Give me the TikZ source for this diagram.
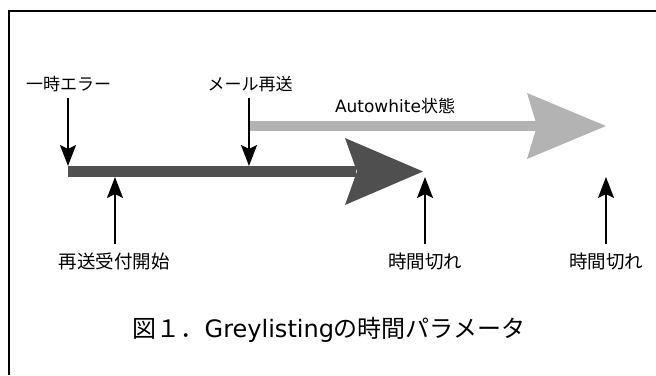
\documentclass[tikz,border=0pt]{standalone}
\usepackage{fontspec}
\setmainfont{DejaVu Sans}
\newfontfamily\cjk{Noto Sans CJK JP}
\usetikzlibrary{arrows.meta}
\definecolor{darkbar}{HTML}{4F4F4F}
\definecolor{lightbar}{HTML}{B3B3B3}
\tikzset{
  lbl/.style={font=\cjk\fontsize{17}{20}\selectfont, inner sep=0pt, anchor=center},
  blbl/.style={font=\cjk\fontsize{18.5}{21}\selectfont, inner sep=0pt, anchor=center},
  ttl/.style={font=\fontsize{24}{28}\selectfont, inner sep=0pt, anchor=center},
  ptr/.style={line width=2pt, -{Stealth[length=21pt,width=16pt,inset=4pt]}},
}
\begin{document}
\begin{tikzpicture}[x=1pt,y=-1pt]
\useasboundingbox (0,0) rectangle (656,375);
% frame
\draw[line width=1.3pt] (9,375) -- (9,11) -- (656,11);
% dark timeline arrow
\fill[darkbar] (68,166) rectangle (356,177);
\fill[darkbar] (345,138) -- (423,171.5) -- (345,205) -- (357,171.5) -- cycle;
% light timeline arrow
\fill[lightbar] (250,121) rectangle (538,131);
\fill[lightbar] (527,93) -- (606,126) -- (527,159) -- (537,126) -- cycle;
% labels
\node[lbl] (err) at (68.5,84.5) {一時エラー};
\node[lbl] (resend) at (250,84.5) {メール再送};
\node[lbl] (auto) at (395,105.5) {{\fontspec{DejaVu Sans}Autowhite}状態};
\node[blbl] (start) at (114,261) {再送受付開始};
\node[blbl] (to1) at (425,261) {時間切れ};
\node[blbl] (to2) at (606,261) {時間切れ};
\node[ttl] (title) at (329,330) {{\cjk 図１．}Greylisting{\cjk の時間パラメータ}};
% pointer ends
\coordinate (e1a) at (68,98);   \coordinate (e1b) at (68,166);
\coordinate (e2a) at (249,98);  \coordinate (e2b) at (249,166);
\coordinate (s1a) at (115,244); \coordinate (s1b) at (115,177);
\coordinate (t1a) at (425,244); \coordinate (t1b) at (425,177);
\coordinate (t2a) at (606,244); \coordinate (t2b) at (606,177);
\draw[ptr] (e1a) -- (e1b);
\draw[ptr] (e2a) -- (e2b);
\draw[ptr] (s1a) -- (s1b);
\draw[ptr] (t1a) -- (t1b);
\draw[ptr] (t2a) -- (t2b);
\end{tikzpicture}
\end{document}
